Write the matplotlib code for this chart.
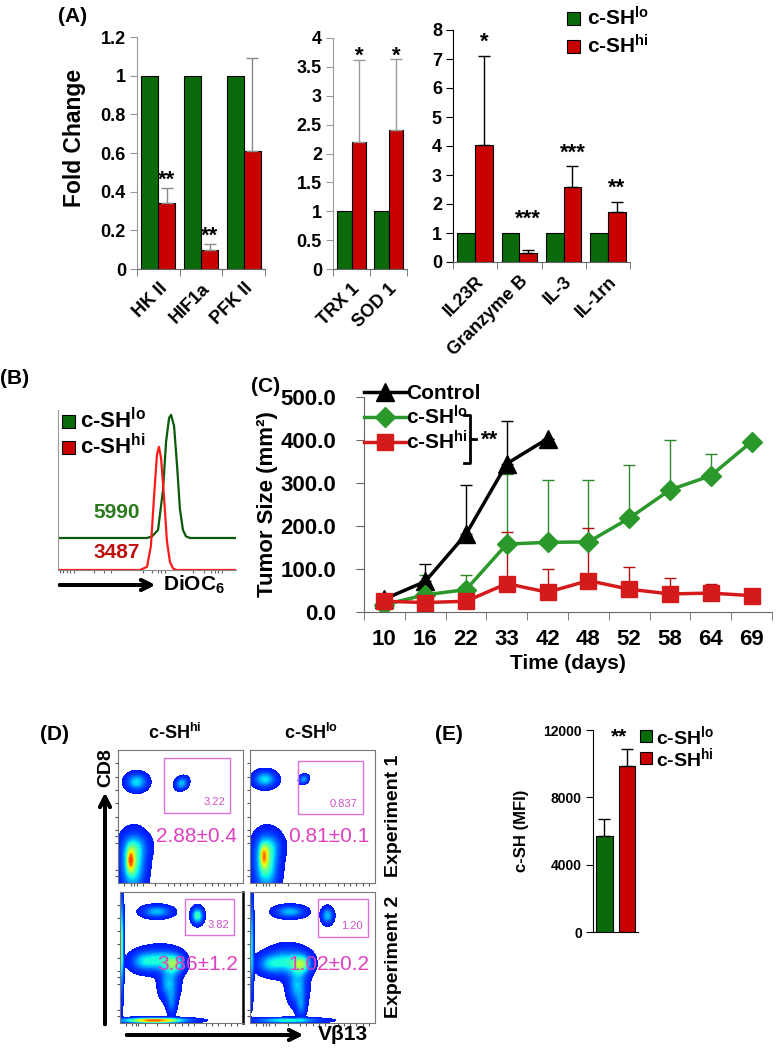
import numpy as np
import matplotlib.pyplot as plt
from matplotlib.patches import Rectangle
from matplotlib.lines import Line2D
from matplotlib.colors import LinearSegmentedColormap

plt.rcParams['font.family'] = ['Liberation Sans', 'DejaVu Sans']
plt.rcParams['font.weight'] = 'bold'
plt.rcParams['axes.labelweight'] = 'bold'
plt.rcParams['mathtext.fontset'] = 'custom'
plt.rcParams['mathtext.rm'] = 'Liberation Sans:bold'
plt.rcParams['mathtext.it'] = 'Liberation Sans:bold'
plt.rcParams['mathtext.bf'] = 'Liberation Sans:bold'

W, H = 782, 1049
GREEN = '#0b6b0b'
RED = '#c80000'
LO = 'c-SH$^{lo}$'
HI = 'c-SH$^{hi}$'

# ---- panel A data
genes_a1 = ['HK II', 'HIF1a', 'PFK II']
lo_a1 = [1, 1, 1]
hi_a1 = [0.34, 0.10, 0.61]
err_a1 = [0.08, 0.03, 0.48]
stars_a1 = ['**', '**', '']

genes_a2 = ['TRX 1', 'SOD 1']
lo_a2 = [1, 1]
hi_a2 = [2.2, 2.4]
err_a2 = [1.42, 1.23]
stars_a2 = ['*', '*']

genes_a3 = ['IL23R', 'Granzyme B', 'IL-3', 'IL-1rn']
lo_a3 = [1, 1, 1, 1]
hi_a3 = [4.05, 0.30, 2.60, 1.72]
err_a3 = [3.05, 0.10, 0.70, 0.36]
stars_a3 = ['*', '***', '***', '**']

# ---- panel B data (histogram, channel 0-1000, % of max)
b_lo_x = [0, 500, 528, 562, 590, 607, 624, 635, 652, 669, 685, 702, 719, 742, 1000]
b_lo_y = [0, 0, 1, 5, 30, 60, 75, 77, 70, 45, 18, 5, 1, 0, 0]
b_hi_x = [0, 461, 500, 522, 539, 556, 567, 579, 596, 612, 629, 646, 663, 1000]
b_hi_y = [0, 0, 2, 15, 45, 72, 77, 70, 45, 18, 5, 1, 0, 0]
b_lo_offset = 20
b_lo_mfi, b_hi_mfi = '5990', '3487'

# ---- panel C data
days = ['10', '16', '22', '33', '42', '48', '52', '58', '64', '69']
control = [30, 71, 181, 345, 403]
control_err = [8, 40, 114, 99, 0]
c_lo = [17, 40, 52, 158, 162, 163, 218, 284, 317, 396]
c_lo_err = [10, 46, 34, 164, 146, 145, 123, 116, 51, 0]
c_hi = [25, 22, 25, 66, 46, 73, 53, 42, 44, 38]
c_hi_err = [0, 0, 0, 119, 54, 123, 51, 37, 22, 0]

# ---- panel D data (gate %, mean +- sd, density blobs: x, y, sx, sy, peak, angle)
gate_pct = [['3.22', '0.837'], ['3.82', '1.20']]
mean_sd = [['2.88\u00b10.4', '0.81\u00b10.1'], ['3.86\u00b11.2', '1.02\u00b10.2']]
gates = [[(0.37, 0.53, 0.53, 0.41), (0.38, 0.52, 0.52, 0.40)],
         [(0.53, 0.67, 0.40, 0.28), (0.54, 0.66, 0.40, 0.29)]]
blobs = [
    [[(0.15, 0.76, 0.055, 0.042, 0.45, 0), (0.51, 0.75, 0.035, 0.028, 0.40, 35),
      (0.12, 0.13, 0.065, 0.13, 0.55, 0), (0.14, 0.28, 0.075, 0.07, 0.25, 0),
      (0.10, 0.17, 0.02, 0.06, 0.35, 0)],
     [(0.12, 0.78, 0.06, 0.04, 0.45, 0), (0.43, 0.78, 0.025, 0.02, 0.35, 35),
      (0.13, 0.13, 0.065, 0.13, 0.55, 0), (0.15, 0.28, 0.075, 0.07, 0.25, 0),
      (0.11, 0.20, 0.02, 0.06, 0.30, 0)]],
    [[(0.30, 0.85, 0.08, 0.03, 0.40, 0), (0.63, 0.82, 0.03, 0.04, 0.55, 0),
      (0.18, 0.47, 0.07, 0.05, 0.30, 0), (0.33, 0.48, 0.10, 0.06, 0.45, 0),
      (0.40, 0.30, 0.05, 0.08, 0.40, 0), (0.42, 0.15, 0.025, 0.06, 0.25, 0),
      (0.45, 0.45, 0.05, 0.05, 0.40, 0), (0.01, 0.60, 0.012, 0.25, 0.6, 0),
      (0.28, 0.02, 0.18, 0.012, 0.9, 0)],
     [(0.32, 0.85, 0.08, 0.03, 0.40, 0), (0.62, 0.82, 0.03, 0.04, 0.40, 0),
      (0.15, 0.45, 0.07, 0.05, 0.30, 0), (0.30, 0.47, 0.10, 0.07, 0.45, 0),
      (0.38, 0.28, 0.05, 0.09, 0.40, 0), (0.41, 0.13, 0.025, 0.06, 0.25, 0),
      (0.42, 0.45, 0.05, 0.05, 0.40, 0), (0.01, 0.60, 0.012, 0.25, 0.45, 0),
      (0.30, 0.02, 0.18, 0.012, 0.5, 0)]],
]

# ---- panel E data
e_groups = ['lo', 'hi']
e_mfi = [5700, 9850]
e_err = [1000, 1000]


def rect(x0, y0, x1, y1):
    return [x0 / W, 1 - y1 / H, (x1 - x0) / W, (y1 - y0) / H]


def fx(x):
    return x / W


def fy(y):
    return 1 - y / H


fig = plt.figure(figsize=(W / 100, H / 100), dpi=100)


def bar_panel(box, genes, lo, hi, err, stars, ylim, yticks, ytl, err_col, spine_col, off):
    ax = fig.add_axes(rect(*box))
    x = np.arange(len(genes))
    ax.bar(x - 0.2, lo, 0.4, color=GREEN, edgecolor='black', lw=0.8)
    ax.bar(x + 0.2, hi, 0.4, color=RED, edgecolor='black', lw=0.8)
    ax.errorbar(x + 0.2, hi, yerr=[np.zeros(len(hi)), err], fmt='none',
                ecolor=err_col, elinewidth=1, capsize=4, capthick=1)
    for i, s in enumerate(stars):
        if s:
            top = max(hi[i] + err[i], lo[i] if len(s) == 3 and hi[i] < 1 else 0)
            ax.text(x[i] + 0.2, top + off, s, ha='center', va='bottom', fontsize=16)
    ax.set_xlim(-0.5, len(genes) - 0.5)
    ax.set_ylim(*ylim)
    ax.set_yticks(yticks)
    ax.set_yticklabels(ytl, fontsize=13, fontweight='bold')
    ax.set_xticks(x)
    ax.set_xticklabels(genes, rotation=45, ha='right', va='top',
                       rotation_mode='anchor', fontsize=13, fontweight='bold')
    ax.set_xticks(np.arange(len(genes) + 1) - 0.5, minor=True)
    ax.tick_params(axis='x', which='major', length=0, pad=8)
    ax.tick_params(axis='x', which='minor', length=5, direction='out', color='#666666')
    ax.tick_params(axis='y', length=5, direction='out', color=spine_col, pad=3)
    for s in ['top', 'right']:
        ax.spines[s].set_visible(False)
    ax.spines['left'].set_color(spine_col)
    ax.spines['bottom'].set_color('#666666')
    return ax


ax1 = bar_panel((137, 37, 265, 269), genes_a1, lo_a1, hi_a1, err_a1, stars_a1, (0, 1.2),
                [0, 0.2, 0.4, 0.6, 0.8, 1, 1.2], ['0', '0.2', '0.4', '0.6', '0.8', '1', '1.2'],
                '#8a8a8a', '#9a9a9a', -0.015)
ax1.set_ylabel('Fold Change', fontsize=16.5)
ax1.yaxis.set_label_coords(-0.40, 0.565)
bar_panel((333, 38, 407, 269), genes_a2, lo_a2, hi_a2, err_a2, stars_a2, (0, 4),
          [0, 0.5, 1, 1.5, 2, 2.5, 3, 3.5, 4], ['0', '0.5', '1', '1.5', '2', '2.5', '3', '3.5', '4'],
          '#9a9a9a', '#9a9a9a', -0.12)
bar_panel((453, 30, 630, 262), genes_a3, lo_a3, hi_a3, err_a3, stars_a3, (0, 8),
          range(9), [str(v) for v in range(9)], 'black', 'black', 0.1)

fig.text(fx(58), fy(16), '(A)', fontsize=15, fontweight='bold', va='center')
for yy, col, lab in [(18, GREEN, LO), (46, RED, HI)]:
    fig.add_artist(Rectangle((fx(567), fy(yy + 7)), 13 / W, 13 / H, facecolor=col,
                             edgecolor='black', lw=0.8, transform=fig.transFigure))
    fig.text(fx(587), fy(yy), lab, fontsize=15, va='center')

# ---- panel B
axb = fig.add_axes(rect(58, 410, 236, 570))
axb.plot(b_lo_x, np.array(b_lo_y) + b_lo_offset, color='#0a5a0a', lw=1.6)
axb.plot(b_hi_x, b_hi_y, color='#ff1a1a', lw=1.6)
axb.set_xlim(0, 1000)
axb.set_ylim(0, 100)
axb.set_yticks([])
axb.set_xticks([10, 30, 50, 70, 90, 200, 260, 300, 480, 530, 560, 580, 600, 760, 820, 860, 880, 900, 920])
axb.set_xticklabels([])
axb.tick_params(axis='x', length=2.5, color='#666666', direction='out')
for s in ['top', 'right']:
    axb.spines[s].set_visible(False)
axb.spines['left'].set_color('#999999')
axb.spines['bottom'].set_color('#888888')
axb.text(0.2, 0.36, b_lo_mfi, transform=axb.transAxes, color='#2b7a1e', fontsize=15, va='center')
axb.text(0.2, 0.11, b_hi_mfi, transform=axb.transAxes, color='#c01010', fontsize=15, va='center')
fig.text(fx(0), fy(378), '(B)', fontsize=15, va='center')
for yy, col, lab in [(421, GREEN, LO), (447, RED, HI)]:
    fig.add_artist(Rectangle((fx(62), fy(yy + 7)), 13 / W, 13 / H, facecolor=col,
                             edgecolor='black', lw=0.8, transform=fig.transFigure))
    fig.text(fx(80), fy(yy), lab, fontsize=16, va='center')
fig.add_artist(plt.annotate('', xy=(fx(158), fy(585)), xytext=(fx(57), fy(585)),
                            xycoords='figure fraction',
                            arrowprops=dict(arrowstyle='->', lw=2.8, color='black',
                                            mutation_scale=18)))
fig.text(fx(163), fy(585), 'DiOC$_6$', fontsize=15, va='center')

# ---- panel C
axc = fig.add_axes(rect(364, 397, 772, 612))
xc = np.arange(len(days))
xctl = xc[:len(control)]
axc.errorbar(xctl, control, yerr=[np.zeros(len(control)), control_err], fmt='none',
             ecolor='black', elinewidth=1, capsize=4)
axc.errorbar(xc, c_lo, yerr=[np.zeros(len(c_lo)), c_lo_err], fmt='none',
             ecolor='#2a8a2a', elinewidth=1, capsize=4)
axc.errorbar(xc, c_hi, yerr=[np.zeros(len(c_hi)), c_hi_err], fmt='none',
             ecolor='#b01010', elinewidth=1, capsize=4)
l1, = axc.plot(xctl, control, color='black', lw=2.5, marker='^', ms=13, label='Control')
l2, = axc.plot(xc, c_lo, color='#2a982a', lw=2.5, marker='D', ms=10, label=LO)
l3, = axc.plot(xc, c_hi, color='#d41a1a', lw=2.5, marker='s', ms=12, label=HI)
axc.set_xlim(-0.5, len(days) - 0.5)
axc.set_ylim(0, 500)
axc.set_yticks([0, 100, 200, 300, 400, 500])
axc.set_yticklabels(['0.0', '100.0', '200.0', '300.0', '400.0', '500.0'], fontsize=16)
axc.set_xticks(xc)
axc.set_xticklabels(days, fontsize=16)
axc.set_xticks(np.arange(len(days) + 1) - 0.5, minor=True)
axc.tick_params(axis='x', which='major', length=0, pad=12)
axc.tick_params(axis='x', which='minor', length=6, color='#666666')
axc.tick_params(axis='y', length=6, color='#666666', pad=14)
for s in ['top', 'right']:
    axc.spines[s].set_visible(False)
axc.spines['left'].set_color('#666666')
axc.spines['bottom'].set_color('#666666')
axc.set_ylabel('Tumor Size (mm\u00b2)', fontsize=16, labelpad=2)
axc.set_xlabel('Time (days)', fontsize=15, labelpad=3)
axc.legend(handles=[l1, l2, l3], loc='upper left', bbox_to_anchor=(0.0, 1.06),
           frameon=False, fontsize=15, handlelength=2.0, handletextpad=0.0,
           labelspacing=0.1, borderpad=0, borderaxespad=0)
bx = fx(470)
fig.add_artist(Line2D([fx(464), bx, bx, fx(464)], [fy(415), fy(415), fy(463), fy(463)],
                      color='black', lw=2, transform=fig.transFigure))
fig.add_artist(Line2D([bx, fx(476)], [fy(439), fy(439)], color='black', lw=2,
                      transform=fig.transFigure))
fig.text(fx(481), fy(440), '**', fontsize=16, va='center')
fig.text(fx(251), fy(386), '(C)', fontsize=15, va='center')

# ---- panel D
jet = plt.get_cmap('jet')
flow_cmap = LinearSegmentedColormap.from_list(
    'flow', jet(0.15 + 0.8 * np.linspace(0, 1, 256) ** 1.6))
gx, gy = np.meshgrid(np.linspace(0, 1, 300), np.linspace(0, 1, 300))
boxes = [[(118, 750, 243, 883), (250, 750, 375, 883)],
         [(120, 892, 243, 1023), (250, 892, 375, 1023)]]
for r in range(2):
    for c in range(2):
        ax = fig.add_axes(rect(*boxes[r][c]))
        z = np.zeros_like(gx)
        for (bx0, by0, sx, sy, pk, ang) in blobs[r][c]:
            t = np.deg2rad(ang)
            u = (gx - bx0) * np.cos(t) + (gy - by0) * np.sin(t)
            v = -(gx - bx0) * np.sin(t) + (gy - by0) * np.cos(t)
            z += pk * np.exp(-0.5 * ((u / sx) ** 2 + (v / sy) ** 2))
        ax.contourf(gx, gy, np.clip(z, 0, 1), levels=np.linspace(0.05, 1.0, 30),
                    cmap=flow_cmap, vmin=0.05, vmax=1.0)
        gx0, gy0, gw, gh = gates[r][c]
        ax.add_patch(Rectangle((gx0, gy0), gw, gh, fill=False, edgecolor='#e070e0', lw=1))
        ax.text(gx0 + gw - 0.04, gy0 + 0.04, gate_pct[r][c], color='#d050c8', fontsize=8,
                fontweight='normal', ha='right', va='bottom')
        ax.text(0.63, 0.35 if r == 0 else 0.45, mean_sd[r][c], color='#e040c0', fontsize=15,
                fontweight='normal', ha='center', va='center', transform=ax.transAxes)
        ax.set_xlim(0, 1)
        ax.set_ylim(0, 1)
        ax.set_xticks([0.05, 0.1, 0.13, 0.15, 0.2, 0.3, 0.4, 0.45, 0.5, 0.55, 0.6, 0.7,
                       0.75, 0.8, 0.85, 0.9, 0.95])
        ax.set_yticks([0.05, 0.1, 0.3, 0.35, 0.4, 0.5, 0.6, 0.7, 0.8, 0.9])
        ax.set_xticklabels([])
        ax.set_yticklabels([])
        ax.tick_params(length=2.5, color='#555555', direction='out', width=0.8)
        for s in ax.spines.values():
            s.set_color('#777777')
            s.set_linewidth(0.8)
        if r == 1 and c == 0:
            ax.spines['right'].set_color('black')
            ax.spines['right'].set_linewidth(1.8)

fig.text(fx(40), fy(735), '(D)', fontsize=15, va='center')
fig.text(fx(175), fy(733), HI, fontsize=13, ha='center', va='center')
fig.text(fx(311), fy(733), LO, fontsize=13, ha='center', va='center')
fig.text(fx(393), fy(816), 'Experiment 1', fontsize=14, rotation=90, ha='center', va='center')
fig.text(fx(393), fy(957), 'Experiment 2', fontsize=14, rotation=90, ha='center', va='center')
fig.add_artist(plt.annotate('', xy=(fx(105), fy(790)), xytext=(fx(105), fy(1027)),
                            xycoords='figure fraction',
                            arrowprops=dict(arrowstyle='->', lw=2.8, color='black',
                                            mutation_scale=18)))
fig.text(fx(106), fy(768), 'CD8', fontsize=14, rotation=90, ha='center', va='center')
fig.add_artist(plt.annotate('', xy=(fx(306), fy(1035)), xytext=(fx(124), fy(1035)),
                            xycoords='figure fraction',
                            arrowprops=dict(arrowstyle='->', lw=2.8, color='black',
                                            mutation_scale=18)))
fig.text(fx(318), fy(1035), 'V\u03b213', fontsize=15, va='center')

# ---- panel E
axe = fig.add_axes(rect(593, 730, 638, 932))
xe = np.arange(len(e_groups))
axe.bar(xe, e_mfi, 0.7, color=[GREEN, RED], edgecolor='black', lw=0.8)
axe.errorbar(xe, e_mfi, yerr=[np.zeros(len(e_mfi)), e_err], fmt='none', ecolor='black',
             elinewidth=1, capsize=4)
axe.set_xlim(-0.5, 1.46)
axe.set_ylim(0, 12000)
axe.set_yticks([0, 4000, 8000, 12000])
axe.set_yticklabels(['0', '4000', '8000', '12000'], fontsize=10)
axe.set_xticks([])
axe.tick_params(axis='y', length=5, pad=3)
for s in ['top', 'right']:
    axe.spines[s].set_visible(False)
axe.set_ylabel('c-SH (MFI)', fontsize=12, labelpad=10)
axe.text(1, e_mfi[1] + e_err[1] + 150, '**', fontsize=15, ha='right', va='bottom')
fig.text(fx(435), fy(735), '(E)', fontsize=15, va='center')
for yy, col, lab in [(736, GREEN, LO), (758, RED, HI)]:
    fig.add_artist(Rectangle((fx(640), fy(yy + 6)), 12 / W, 12 / H, facecolor=col,
                             edgecolor='black', lw=0.8, transform=fig.transFigure))
    fig.text(fx(656), fy(yy), lab, fontsize=14, va='center')

fig.savefig('out.png', dpi=100)
